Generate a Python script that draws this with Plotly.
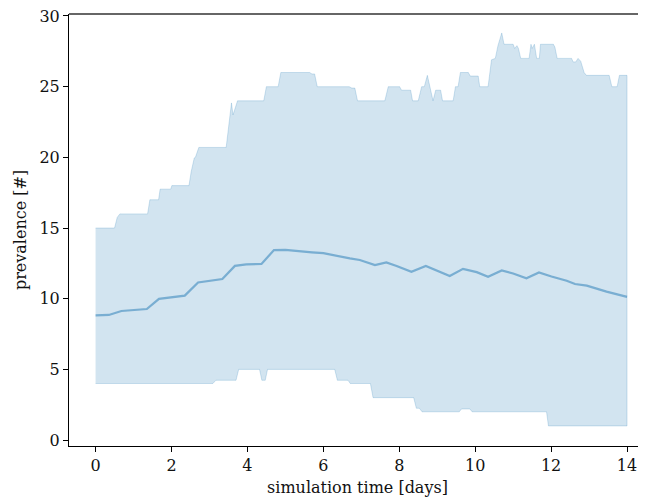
import plotly.graph_objects as go

# Upper bound of the band (time in days, prevalence)
t_upper = [0, 0.5, 0.57, 0.64, 1.37, 1.43, 1.66, 1.7, 1.98, 2.01, 2.46, 2.52, 2.6, 2.63, 2.72,
           3.44, 3.58, 3.62, 3.74, 4.43, 4.5, 4.81, 4.88, 5.64, 5.7, 5.77, 5.84, 6.68, 6.75,
           6.83, 6.9, 7.62, 7.71, 8.01, 8.06, 8.3, 8.35, 8.5, 8.59, 8.66, 8.74, 8.8, 8.89,
           8.96, 9.09, 9.14, 9.42, 9.48, 9.55, 9.61, 9.82, 9.87, 10.08, 10.12, 10.34, 10.43,
           10.53, 10.6, 10.7, 10.76, 11.0, 11.04, 11.1, 11.14, 11.2, 11.42, 11.47, 11.5,
           11.56, 11.62, 11.69, 11.72, 12.06, 12.1, 12.16, 12.54, 12.58, 12.65, 12.71, 12.78,
           12.87, 12.93, 13.53, 13.6, 13.74, 13.8, 14.0]
v_upper = [15, 15, 15.75, 16, 16, 17, 17, 17.75, 17.75, 18, 18, 19, 19.96, 20, 20.7,
           20.7, 23.85, 23.0, 24, 24, 25, 25, 26, 26, 25.9, 25.9, 25, 25, 24.9,
           24.9, 24, 24, 25, 25, 24.75, 24.75, 24, 24, 25, 25, 25.8, 25, 24,
           24.75, 24.75, 24, 24, 25, 25, 26, 26, 25.75, 25.75, 25, 25, 26.9,
           27, 27.9, 28.8, 28, 28, 27.7, 27.9, 27.7, 27, 27, 28, 27.7,
           28, 27, 27, 28, 28, 27.8, 27, 27, 26.75, 26.75, 27, 26.8,
           26, 25.8, 25.8, 25, 25, 25.8, 25.8]

# Lower bound of the band
t_lower = [0, 3.09, 3.17, 3.7, 3.77, 4.32, 4.38, 4.47, 4.53, 6.3, 6.37, 6.65, 6.71, 7.24,
           7.31, 8.38, 8.45, 8.53, 8.6, 9.58, 9.64, 9.86, 9.92, 11.88, 11.93, 14.0]
v_lower = [4, 4, 4.23, 4.23, 5, 5, 4.23, 4.23, 5, 5, 4.23, 4.23, 4, 4,
           3, 3, 2.25, 2.25, 2, 2, 2.2, 2.2, 2, 2, 1, 1]

# Mean prevalence
t_mean = [0, 0.35, 0.68, 1.35, 1.67, 2.35, 2.7, 3.34, 3.67, 3.97, 4.37, 4.7, 5.0, 5.4, 5.7,
          6.0, 6.3, 6.7, 6.96, 7.36, 7.66, 7.93, 8.32, 8.7, 9.33, 9.68, 10.04, 10.34, 10.7,
          11.0, 11.35, 11.68, 12.01, 12.41, 12.63, 12.94, 13.46, 14.0]
v_mean = [8.82, 8.85, 9.13, 9.27, 9.99, 10.22, 11.15, 11.39, 12.32, 12.43, 12.46, 13.44, 13.45,
          13.38, 13.28, 13.22, 13.05, 12.85, 12.74, 12.38, 12.57, 12.32, 11.9, 12.32, 11.6,
          12.11, 11.88, 11.55, 12.0, 11.78, 11.45, 11.85, 11.57, 11.27, 11.04, 10.92, 10.5,
          10.13]

x_ticks = [0, 2, 4, 6, 8, 10, 12, 14]
y_ticks = [0, 5, 10, 15, 20, 25, 30]

band_x = t_upper + t_lower[::-1]
band_y = v_upper + v_lower[::-1]

fig = go.Figure()
fig.add_trace(go.Scatter(
    x=band_x, y=band_y, mode="lines", fill="toself",
    fillcolor="rgba(31,119,180,0.2)",
    line=dict(color="rgba(31,119,180,0.2)", width=1),
    hoverinfo="skip", showlegend=False))
fig.add_trace(go.Scatter(
    x=t_mean, y=v_mean, mode="lines",
    line=dict(color="rgba(31,119,180,0.5)", width=2.2),
    showlegend=False))

font = dict(family="DejaVu Serif", size=16, color="#111111")
# The page body keeps its default 8px margin, so the figure is sized to fit
# the 646x502 window from that offset (right side of the axes is cut at the edge).
fig.update_layout(
    width=638, height=494,
    margin=dict(l=61, r=0, t=6, b=56, autoexpand=False),
    paper_bgcolor="white", plot_bgcolor="white",
    font=font,
    xaxis=dict(
        range=[-0.7, 14.5], tickvals=x_ticks, ticktext=[str(v) for v in x_ticks],
        automargin=False, ticklabeloverflow="allow",
        showgrid=False, zeroline=False, showline=True, linecolor="black", linewidth=1.1,
        ticks="outside", ticklen=5, tickwidth=1, tickcolor="black",
        title=dict(text="simulation time [days]", standoff=7, font=font)),
    yaxis=dict(
        range=[-0.42, 30.14], tickvals=y_ticks, ticktext=[str(v) for v in y_ticks],
        automargin=False, ticklabeloverflow="allow",
        showgrid=False, zeroline=False, showline=True, linecolor="black", linewidth=1.1,
        ticks="outside", ticklen=5, tickwidth=1, tickcolor="black",
        title=dict(text="prevalence [#]", standoff=8, font=font)),
    shapes=[dict(type="line", xref="paper", yref="paper", x0=0, x1=1, y0=1, y1=1,
                 line=dict(color="#333333", width=1.3), layer="above")],
)

fig.write_html("out.html", config={"displayModeBar": False})
